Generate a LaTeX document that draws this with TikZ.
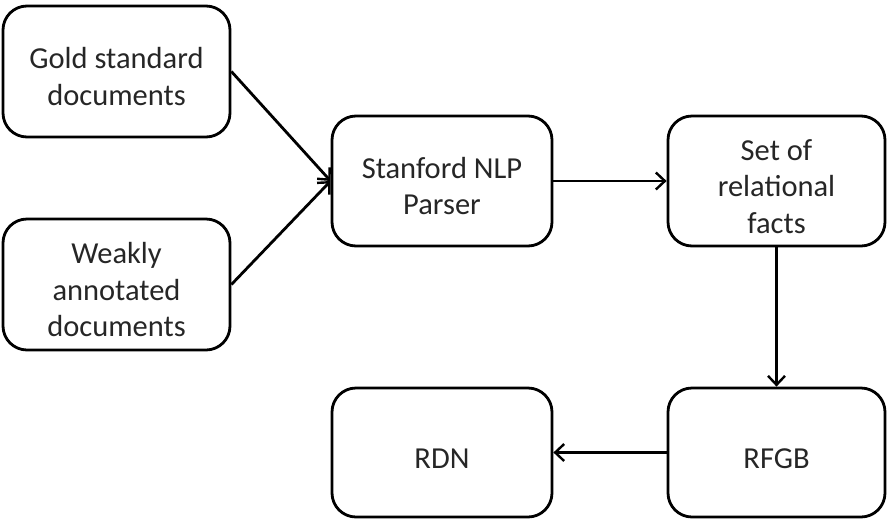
\documentclass[tikz,border=0pt]{standalone}
\usepackage{fontspec}
\setmainfont{Carlito}
\usetikzlibrary{arrows.meta}
\newcommand\bxtext[1]{\begin{tabular}{@{}c@{}}\rule{0pt}{42pt}#1\end{tabular}}
\begin{document}
\begin{tikzpicture}[x=1pt,y=-1pt,
  box/.style={draw=black, line width=2.8pt, rounded corners=24pt,
    inner sep=0pt, font=\fontsize{30.5}{36.5}\selectfont, text=black!85},
  conn/.style={line width=2.8pt, -{Straight Barb[length=9pt,width=17pt,line width=2.4pt]}}]
\useasboundingbox (0,0) rectangle (888,520);
\node[box, minimum width=227pt, minimum height=131pt] (gold) at (116.5,71.5) {\bxtext{Gold standard\\documents}};
\node[box, minimum width=227pt, minimum height=131pt] (weak) at (116.5,284.5) {\bxtext{Weakly\\annotated\\documents}};
\node[box, minimum width=220pt, minimum height=130pt] (stan) at (442,181) {\bxtext{Stanford NLP\\Parser}};
\node[box, minimum width=217pt, minimum height=130pt] (set) at (776.5,181) {\bxtext{Set of\\relational\\facts}};
\node[box, minimum width=217pt, minimum height=129pt] (rfgb) at (776.5,452.5) {\bxtext{RFGB}};
\node[box, minimum width=220pt, minimum height=129pt] (rdn) at (442,452.5) {\bxtext{RDN}};
\draw[conn] (gold.east) -- (stan.west);
\draw[conn] (weak.east) -- (stan.west);
\draw[conn] (stan.east) -- (set.west);
\draw[conn] (set.south) -- (rfgb.north);
\draw[conn] (rfgb.west) -- (rdn.east);
\end{tikzpicture}
\end{document}
